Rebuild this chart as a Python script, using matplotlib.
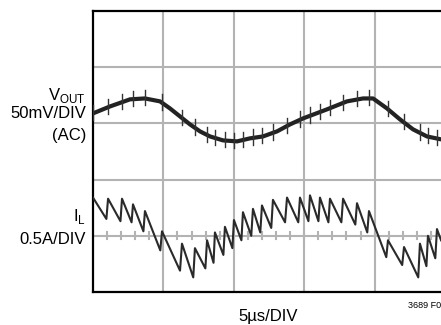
import numpy as np
import matplotlib
matplotlib.use("Agg")
from matplotlib import pyplot as plt

plt.rcParams["font.family"] = ["Liberation Sans Narrow", "Liberation Sans", "DejaVu Sans"]

# scope trace readings: time in us, VOUT in mV (AC), IL in A around its marker
vout_t = [0.00, 1.21, 2.63, 3.69, 4.76, 5.47, 6.18, 6.89, 7.60, 8.31, 9.23, 10.23,
          11.15, 12.07, 13.07, 13.99, 14.91, 16.62, 18.04, 19.18, 19.89, 20.88,
          21.80, 22.73, 23.72, 24.72]
vout_mv = [8.9, 15.1, 21.4, 22.2, 19.6, 13.3, 6.2, -0.9, -7.1, -11.6, -15.1, -16.0,
           -13.3, -11.6, -7.1, -0.9, 4.4, 12.5, 19.6, 22.2, 22.2, 13.3,
           3.6, -5.3, -11.6, -14.2]

# inductor current vertices (peak, valley, peak, ...)
il_t = [0.00, 0.95, 1.07, 1.95, 2.06, 2.74, 2.84, 3.58, 3.69, 4.78, 4.90, 6.18,
        6.32, 7.12, 7.24, 7.98, 8.10, 8.56, 8.66, 9.26, 9.37, 9.90, 10.01, 10.54,
        10.65, 11.24, 11.36, 11.88, 12.00, 12.66, 12.78, 13.64, 13.78, 14.58,
        14.70, 15.30, 15.41, 16.01, 16.12, 16.72, 16.83, 17.64, 17.76, 18.63,
        18.75, 19.48, 19.60, 20.83, 20.95, 21.96, 22.09, 23.10, 23.22, 23.68,
        23.79, 24.31, 24.43, 24.72]
il_a = [0.34, 0.15, 0.33, 0.13, 0.33, 0.12, 0.28, 0.04, 0.22, -0.13, 0.04, -0.31,
        -0.07, -0.37, -0.11, -0.29, -0.04, -0.24, 0.03, -0.17, 0.08, -0.11, 0.14,
        -0.04, 0.21, 0.00, 0.24, 0.03, 0.27, 0.07, 0.32, 0.12, 0.34, 0.12, 0.34,
        0.13, 0.36, 0.13, 0.34, 0.12, 0.33, 0.12, 0.33, 0.10, 0.29, 0.03, 0.22,
        -0.19, -0.04, -0.26, -0.10, -0.37, -0.07, -0.27, 0.00, -0.20, 0.06, -0.04]

vout_div = 50.0   # mV/DIV
il_div = 0.5      # A/DIV
vout_ref = 3      # grid line the AC trace sits on
il_ref = 1        # marker line of IL

fig = plt.figure(figsize=(4.41, 3.25), dpi=100)
ax = fig.add_axes([93 / 441, 33 / 325, 352 / 441, 281 / 325])
ax.set_xlim(0, 25)
ax.set_ylim(0, 5)

grid_c = "#b3b3b3"
for x in [5, 10, 15, 20]:
    ax.axvline(x, color=grid_c, lw=1.5, zorder=1)
for y in [1, 2, 3, 4]:
    ax.axhline(y, color=grid_c, lw=1.5, zorder=1)
# small ticks along the IL marker line
for x in np.arange(1, 25, 1):
    ax.plot([x, x], [il_ref - 0.065, il_ref + 0.065], color=grid_c, lw=1.5, zorder=1)

vt = np.array(vout_t)
vy = np.array(vout_mv) / vout_div + vout_ref
ax.plot(vt, vy, color="#222222", lw=3.0, solid_capstyle="round", zorder=3)

# switching spikes on VOUT at each IL ramp-up
tops = np.array(il_t[0::2])
for t in tops:
    v = np.interp(t, vt, vy)
    ax.plot([t, t], [v - 0.12, v + 0.15], color="#333333", lw=1.0, zorder=3)

ax.plot(il_t, np.array(il_a) / il_div + il_ref, color="#2a2a2a", lw=1.5, zorder=3)

ax.set_xticks([])
ax.set_yticks([])
for side in ["left", "top", "bottom"]:
    ax.spines[side].set_linewidth(1.6)
    ax.spines[side].set_color("black")
ax.spines["right"].set_visible(False)

fs = 12
fig.text(86 / 441, 1 - 95 / 325, "V$_\\mathregular{OUT}$", ha="right", va="center", fontsize=fs)
fig.text(86 / 441, 1 - 113 / 325, "50mV/DIV", ha="right", va="center", fontsize=fs)
fig.text(86 / 441, 1 - 135 / 325, "(AC)", ha="right", va="center", fontsize=fs)
fig.text(86 / 441, 1 - 217 / 325, "I$_\\mathregular{L}$", ha="right", va="center", fontsize=fs)
fig.text(86 / 441, 1 - 239 / 325, "0.5A/DIV", ha="right", va="center", fontsize=fs)
fig.text(268 / 441, 1 - 316 / 325, "5µs/DIV", ha="center", va="center", fontsize=fs)
fig.text(441 / 441, 1 - 305 / 325, "3689 F0", ha="right", va="center", fontsize=6.5)

fig.savefig("out.png", dpi=100)
